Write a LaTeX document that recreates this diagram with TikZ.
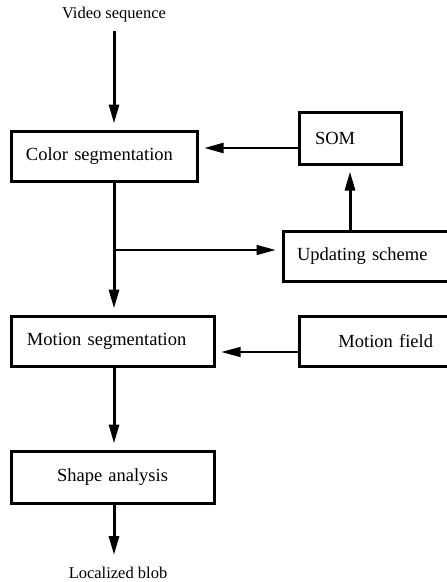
\documentclass[tikz,border=0pt]{standalone}
\usepackage{fontspec}
\setmainfont{Liberation Serif}
\usetikzlibrary{arrows.meta,positioning}

\begin{document}
\begin{tikzpicture}[x=1pt, y=-1pt,
  box/.style={draw, line width=3pt, minimum height=50pt, inner ysep=0pt,
    font=\fontsize{18.5}{21}\selectfont},
  lbl/.style={font=\fontsize{16.5}{19}\selectfont, inner sep=0pt},
  tip/.style={-{Triangle[length=19pt, width=10pt]}, shorten >=6pt},
  heavy/.style={tip, line width=3pt},
  light/.style={tip, line width=1.4pt}]
\useasboundingbox (0,0) rectangle (447,582);
\node [lbl] (video) at (114,15) {Video sequence};
\node [box, text width=156pt, inner xsep=15pt, align=left] (colseg) at (104,156) {Color segmentation};
\node [box, text width=70pt, inner xsep=16pt, align=left, minimum height=52pt] (som) at (350,138) {SOM};
\node [box, text width=138pt, inner xsep=14pt, align=left] (update) at (366,256.5) {Updating scheme};
\node [box, text width=171pt, inner xsep=16pt, align=left] (motseg) at (112.5,341) {Motion segmentation};
\node [box, text width=118pt, inner xsep=16pt, align=right] (motfield) at (374,341) {Motion field};
\node [box, text width=171pt, inner xsep=16pt, align=center, minimum height=52pt] (shape) at (112.5,477) {Shape analysis};
\node [lbl] (blob) at (118,573) {Localized blob};
\coordinate (split) at (114,250);
% main line
\draw [heavy] ([yshift=-8pt]video.south) -- (video.south |- colseg.north);
\draw [heavy] (video.south |- colseg.south) -- (video.south |- motseg.north);
\draw [heavy] (video.south |- motseg.south) -- (video.south |- shape.north);
\draw [heavy] (video.south |- shape.south) -- ([yshift=6pt]video.south |- blob.north);
% feedback loop
\draw [light] (split) -- (split -| update.west);
\draw [heavy] (som.south |- update.north) -- (som.south);
\draw [tip, line width=2.2pt] ([yshift=-10pt]som.west) -- ([yshift=-10pt]som.west -| colseg.east);
\draw [light] ([yshift=-11pt]motfield.west) -- ([yshift=-11pt]motfield.west -| motseg.east);
\end{tikzpicture}
\end{document}
